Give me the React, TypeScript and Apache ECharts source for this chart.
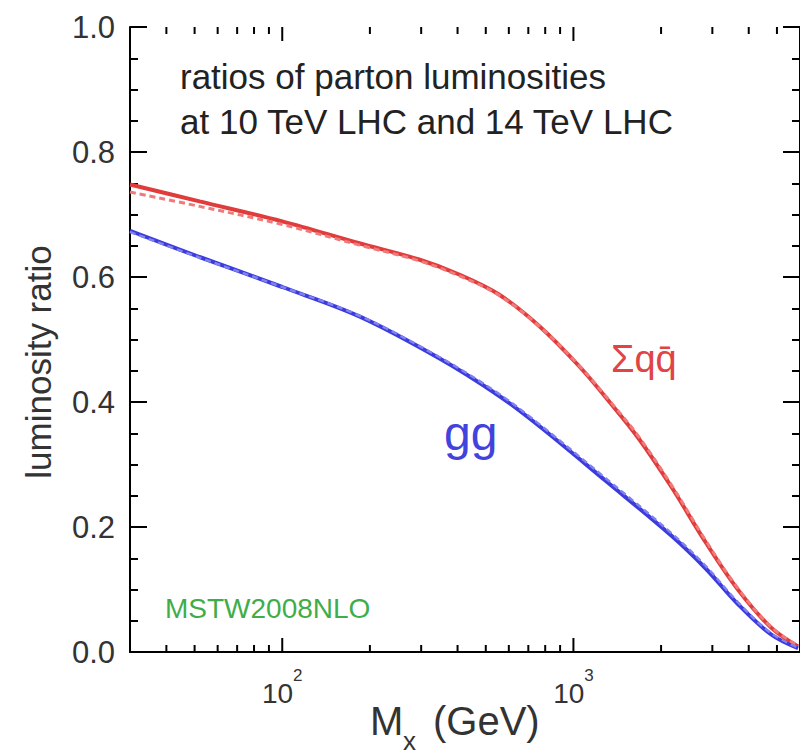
import React, { useEffect, useRef } from "react";
import * as echarts from "echarts";

// x range (GeV) and y range
const xRange = [30, 6000];
const yRange = [0, 1];

// Sigma q qbar
const redSolidM = [30, 52, 100, 184, 295, 405, 555, 761, 1043, 1320, 1673, 2172, 2841, 3684, 4776, 5910];
const redSolidV = [0.748, 0.721, 0.689, 0.654, 0.628, 0.604, 0.572, 0.522, 0.458, 0.402, 0.342, 0.264, 0.176, 0.099, 0.039, 0.009];
const redDashM = [30, 52, 100, 184, 295, 405, 555, 761, 1043, 1320, 1673, 2172, 2841, 3684, 4776, 5910];
const redDashV = [0.736, 0.713, 0.684, 0.651, 0.626, 0.602, 0.571, 0.522, 0.459, 0.404, 0.345, 0.267, 0.179, 0.101, 0.04, 0.01];

// gg
const blueSolidM = [30, 52, 100, 184, 346, 555, 761, 1290, 2172, 2841, 3684, 4776, 5910];
const blueSolidV = [0.674, 0.632, 0.584, 0.537, 0.47, 0.41, 0.362, 0.274, 0.186, 0.134, 0.076, 0.028, 0.006];
const blueDashM = [30, 52, 100, 184, 346, 555, 761, 1290, 2172, 2841, 3684, 4776, 5910];
const blueDashV = [0.672, 0.631, 0.584, 0.538, 0.472, 0.413, 0.365, 0.278, 0.19, 0.138, 0.079, 0.03, 0.007];

// tick values on the log axis
const majorTickValues = [100, 1000];
const minorTickValues = [40, 50, 60, 70, 80, 90, 200, 300, 400, 500, 600, 700, 800, 900, 2000, 3000, 4000, 5000];
const xLabelExponents = [2, 3];

const FONT = "'Liberation Sans', Arial, Helvetica, sans-serif";

export default function App() {
  const ref = useRef<HTMLDivElement>(null);
  useEffect(() => {
    const chart = echarts.init(ref.current!, null, { renderer: "svg" });
    const pair = (m: number[], v: number[]) => m.map((x, i) => [x, v[i]]);
    const tickData = [
      ...majorTickValues.map((v) => [v, 1]),
      ...minorTickValues.map((v) => [v, 0]),
    ];
    const yAxisBase = {
      type: "value",
      min: yRange[0],
      max: yRange[1],
      interval: 0.2,
      splitLine: { show: false },
      axisLine: { show: true, lineStyle: { color: "#000", width: 2 } },
      axisTick: { show: true, inside: true, length: 17, lineStyle: { color: "#000", width: 2 } },
      minorTick: { show: true, splitNumber: 4, length: 8, lineStyle: { color: "#000", width: 2 } },
    };
    const xAxisBase = {
      type: "log",
      logBase: 10,
      min: xRange[0],
      max: xRange[1],
      splitLine: { show: false },
      axisTick: { show: false },
      minorTick: { show: false },
      axisLine: { show: true, lineStyle: { color: "#000", width: 2 } },
    };
    const line = (m: number[], v: number[], color: string, width: number, type: any, z: number) => ({
      type: "line",
      data: pair(m, v),
      smooth: 0.35,
      showSymbol: false,
      lineStyle: { color, width, type },
      z,
    });
    chart.setOption({
      animation: false,
      backgroundColor: "#fff",
      grid: { left: 130, top: 27, right: -2, bottom: 104, containLabel: false },
      xAxis: [
        {
          ...xAxisBase,
          position: "bottom",
          axisLabel: {
            show: true,
            margin: 15,
            fontFamily: FONT,
            color: "#333",
            showMinLabel: false,
            showMaxLabel: false,
            formatter: (v: number) => {
              const l = Math.round(Math.log10(v));
              if (Math.abs(Math.log10(v) - l) < 1e-6 && xLabelExponents.indexOf(l) >= 0) {
                return `{b|10}{s|${l}}`;
              }
              return "";
            },
            rich: {
              b: { fontSize: 28, lineHeight: 40, verticalAlign: "bottom", fontFamily: FONT, color: "#333" },
              s: { fontSize: 17, lineHeight: 17, verticalAlign: "top", fontFamily: FONT, color: "#333" },
            },
          },
        },
        { ...xAxisBase, position: "top", axisLabel: { show: false } },
      ],
      yAxis: [
        {
          ...yAxisBase,
          position: "left",
          axisLabel: {
            show: true,
            margin: 15,
            fontSize: 31,
            fontFamily: FONT,
            color: "#333",
            formatter: (v: number) => v.toFixed(1),
          },
        },
        { ...yAxisBase, position: "right", axisLabel: { show: false } },
      ],
      series: [
        line(redSolidM, redSolidV, "#e03c3c", 4, "solid", 3),
        line(redDashM, redDashV, "#f07a7a", 3, [6, 4], 4),
        line(blueSolidM, blueSolidV, "#3c3cdc", 4, "solid", 3),
        line(blueDashM, blueDashV, "#8080f0", 2.5, [6, 4], 4),
        {
          type: "custom",
          xAxisIndex: 0,
          yAxisIndex: 0,
          data: tickData,
          silent: true,
          clip: false,
          z: 5,
          renderItem: (params: any, api: any) => {
            const v = api.value(0);
            const len = api.value(1) ? 14 : 7;
            const b = api.coord([v, 0]);
            const t = api.coord([v, 1]);
            return {
              type: "group",
              children: [
                { type: "line", shape: { x1: b[0], y1: b[1], x2: b[0], y2: b[1] - len }, style: { stroke: "#000", lineWidth: 2 } },
                { type: "line", shape: { x1: t[0], y1: t[1], x2: t[0], y2: t[1] + len }, style: { stroke: "#000", lineWidth: 2 } },
              ],
            };
          },
        },
      ],
      graphic: [
        {
          type: "text",
          x: 180,
          y: 76,
          style: {
            text: "ratios of parton luminosities",
            font: `35px ${FONT}`,
            fill: "#222",
            textAlign: "left",
            verticalAlign: "middle",
          },
        },
        {
          type: "text",
          x: 180,
          y: 121,
          style: {
            text: "at 10 TeV LHC and 14 TeV LHC",
            font: `35px ${FONT}`,
            fill: "#222",
            textAlign: "left",
            verticalAlign: "middle",
          },
        },
        {
          type: "text",
          x: 165,
          y: 608,
          style: {
            text: "MSTW2008NLO",
            font: `28px ${FONT}`,
            fill: "#3fad4a",
            textAlign: "left",
            verticalAlign: "middle",
          },
        },
        {
          type: "text",
          x: 444,
          y: 433,
          style: {
            text: "gg",
            font: `48px ${FONT}`,
            fill: "#4242dd",
            textAlign: "left",
            verticalAlign: "middle",
          },
        },
        {
          type: "text",
          x: 611,
          y: 359,
          style: {
            text: "Σqq̄",
            font: `38px ${FONT}`,
            fill: "#e04444",
            textAlign: "left",
            verticalAlign: "middle",
          },
        },
        {
          type: "text",
          x: 38,
          y: 362,
          rotation: Math.PI / 2,
          style: {
            text: "luminosity ratio",
            font: `35px ${FONT}`,
            fill: "#333",
            textAlign: "center",
            verticalAlign: "middle",
          },
        },
        {
          type: "text",
          x: 370,
          y: 721,
          style: { text: "M", font: `40px ${FONT}`, fill: "#333", textAlign: "left", verticalAlign: "middle" },
        },
        {
          type: "text",
          x: 403,
          y: 741,
          style: { text: "x", font: `26px ${FONT}`, fill: "#333", textAlign: "left", verticalAlign: "middle" },
        },
        {
          type: "text",
          x: 433,
          y: 721,
          style: { text: "(GeV)", font: `40px ${FONT}`, fill: "#333", textAlign: "left", verticalAlign: "middle" },
        },
      ],
    });
    return () => chart.dispose();
  }, []);
  return (
    <div
      ref={ref}
      style={{ position: "absolute", left: 0, top: 0, width: 800, height: 756 }}
    />
  );
}
